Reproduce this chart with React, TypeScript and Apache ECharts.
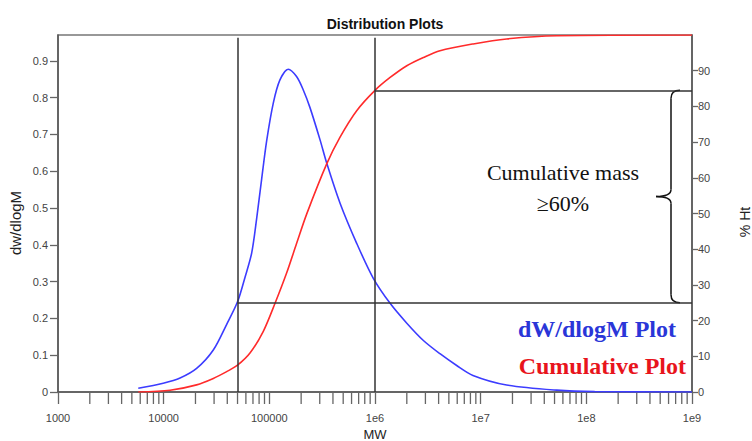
import React, { useEffect, useRef } from 'react';
import * as echarts from 'echarts';

// dW/dlogM distribution (left axis)
const blueMW = [5750, 9900, 14300, 20500, 29500, 39500, 50000, 58900, 68100, 75900, 84700, 94400, 109000, 126000, 151000, 181000, 210000, 243000, 302000, 349000, 467000, 671000, 964000, 1390000, 2000000, 2870000, 4120000, 5930000, 8450000, 17600000, 52400000, 120000000, 1000000000];
const dwdlogM = [0.010, 0.024, 0.038, 0.064, 0.114, 0.184, 0.245, 0.312, 0.378, 0.472, 0.580, 0.683, 0.785, 0.848, 0.877, 0.857, 0.820, 0.772, 0.685, 0.622, 0.513, 0.404, 0.309, 0.241, 0.187, 0.140, 0.104, 0.072, 0.045, 0.019, 0.005, 0.001, 0];

// Cumulative mass (right axis, %)
const cumMW = [5750, 11500, 20500, 29500, 39500, 50000, 65600, 87700, 113000, 146000, 181000, 226000, 349000, 467000, 671000, 1000000, 1390000, 2000000, 2870000, 4120000, 8500000, 17600000, 52400000, 1000000000];
const cumPercent = [0, 0.5, 2.0, 3.8, 5.7, 7.5, 10.9, 17.0, 24.8, 33.4, 41.6, 49.9, 63.9, 71.4, 78.8, 84.5, 88.1, 91.4, 93.7, 95.6, 97.5, 98.9, 99.8, 100];

// Reference markers
const markerMW = [50000, 1000000];
const markerPercent = [25, 84.5];

// Axis ticks
const leftTicks = [0, 0.1, 0.2, 0.3, 0.4, 0.5, 0.6, 0.7, 0.8, 0.9];
const rightTicks = [0, 10, 20, 30, 40, 50, 60, 70, 80, 90];
const minorDecades = [1e3, 1e4, 1e5, 1e6, 1e7, 1e8];
const minorSteps = [2, 3, 4, 5, 6, 7, 8, 9];

const AXIS_FONT = '"Liberation Sans", Arial, sans-serif';
const SERIF = '"Liberation Serif", "Times New Roman", serif';

export default function App() {
  const ref = useRef<HTMLDivElement>(null);

  useEffect(() => {
    const el = ref.current;
    if (!el) return;
    const chart = echarts.init(el, null, { renderer: 'svg' });

    const minorTicks: number[][] = [];
    minorDecades.forEach((d) => minorSteps.forEach((s) => minorTicks.push([d * s, 0])));

    const xFormatter = (v: number) => {
      const e = Math.round(Math.log10(v));
      return e >= 6 ? `1e${e}` : String(Math.pow(10, e));
    };

    chart.setOption({
      animation: false,
      backgroundColor: '#ffffff',
      title: {
        text: 'Distribution Plots',
        left: 380,
        top: 12,
        textAlign: 'center',
        textStyle: { fontFamily: AXIS_FONT, fontSize: 14, fontWeight: 'bold', color: '#111' },
      },
      grid: {
        left: 58,
        right: 60,
        top: 35,
        bottom: 49,
        containLabel: false,
        outerBoundsMode: 'none',
        show: true,
        borderColor: '#777',
        borderWidth: 1.5,
        backgroundColor: 'transparent',
      },
      xAxis: {
        type: 'log',
        logBase: 10,
        min: 1000,
        max: 1e9,
        name: 'MW',
        nameLocation: 'middle',
        nameGap: 36,
        nameTextStyle: { fontFamily: AXIS_FONT, fontSize: 13, color: '#222' },
        axisLine: { show: true, lineStyle: { color: '#555', width: 1.5 } },
        axisTick: { show: true, length: 12, lineStyle: { color: '#666', width: 1.3 } },
        axisLabel: { formatter: xFormatter, margin: 20, fontFamily: AXIS_FONT, fontSize: 11, color: '#444' },
        splitLine: { show: false },
        minorTick: { show: false },
      },
      yAxis: [
        {
          type: 'value',
          min: 0,
          max: 0.97,
          position: 'left',
          axisLine: { show: true, lineStyle: { color: '#555', width: 1.5 } },
          axisTick: { show: true, length: 8, customValues: leftTicks, lineStyle: { color: '#666', width: 1.3 } },
          axisLabel: {
            customValues: leftTicks,
            margin: 10,
            fontFamily: AXIS_FONT,
            fontSize: 11,
            color: '#444',
            formatter: (v: number) => (v === 0 ? '0' : v.toFixed(1)),
          },
          splitLine: { show: false },
        },
        {
          type: 'value',
          min: 0,
          max: 100,
          position: 'right',
          axisLine: { show: true, lineStyle: { color: '#555', width: 1.5 } },
          axisTick: { show: true, length: 6, customValues: rightTicks, lineStyle: { color: '#666', width: 1.3 } },
          axisLabel: {
            customValues: rightTicks,
            margin: 6,
            fontFamily: AXIS_FONT,
            fontSize: 11,
            color: '#444',
          },
          splitLine: { show: false },
        },
      ],
      series: [
        {
          name: 'dW/dlogM Plot',
          type: 'line',
          xAxisIndex: 0,
          yAxisIndex: 0,
          data: blueMW.map((m, i) => [m, dwdlogM[i]]),
          showSymbol: false,
          smooth: 0.3,
          lineStyle: { color: '#3c3cff', width: 1.6 },
          z: 3,
        },
        {
          name: 'Cumulative Plot',
          type: 'line',
          xAxisIndex: 0,
          yAxisIndex: 1,
          data: cumMW.map((m, i) => [m, cumPercent[i]]),
          showSymbol: false,
          smooth: 0.3,
          lineStyle: { color: '#ff2b2b', width: 1.6 },
          z: 3,
          markLine: {
            silent: true,
            symbol: 'none',
            label: { show: false },
            lineStyle: { color: '#333', width: 1.5, type: 'solid' },
            data: [
              [{ coord: [markerMW[0], 0] }, { coord: [markerMW[0], 99.2] }],
              [{ coord: [markerMW[1], 0] }, { coord: [markerMW[1], 99.2] }],
              [{ coord: [markerMW[0], markerPercent[0]] }, { coord: [1e9, markerPercent[0]] }],
              [{ coord: [markerMW[1], markerPercent[1]] }, { coord: [1e9, markerPercent[1]] }],
            ],
          },
        },
        {
          // minor ticks of the log axis (2..9 within each decade)
          type: 'custom',
          xAxisIndex: 0,
          yAxisIndex: 0,
          silent: true,
          data: minorTicks,
          renderItem: (_params: any, api: any) => {
            const p = api.coord([api.value(0), 0]);
            return {
              type: 'line',
              shape: { x1: p[0], y1: p[1], x2: p[0], y2: p[1] + 12 },
              style: { stroke: '#666', lineWidth: 1.3 },
            };
          },
        },
      ],
    });

    const xRight = chart.convertToPixel({ xAxisIndex: 0 }, 1e9) as number;
    const yTop = chart.convertToPixel({ yAxisIndex: 1 }, markerPercent[1]) as number;
    const yBot = chart.convertToPixel({ yAxisIndex: 1 }, markerPercent[0]) as number;
    const bx = xRight - 21;
    const yMid = (yTop + yBot) / 2;
    const braceStyle = { stroke: '#111', lineWidth: 1.5, fill: 'none' };

    chart.setOption({
      graphic: [
        {
          type: 'text',
          x: 15,
          y: 223,
          rotation: Math.PI / 2,
          style: { text: 'dw/dlogM', fontFamily: AXIS_FONT, fontSize: 15, fill: '#222', align: 'center', verticalAlign: 'middle' },
        },
        {
          type: 'text',
          x: 745,
          y: 222,
          rotation: Math.PI / 2,
          style: { text: '% Ht', fontFamily: AXIS_FONT, fontSize: 14, fill: '#222', align: 'center', verticalAlign: 'middle' },
        },
        {
          type: 'group',
          children: [
            { type: 'bezierCurve', shape: { x1: bx + 9, y1: yTop, cpx1: bx, cpy1: yTop, x2: bx, y2: yTop + 8 }, style: braceStyle },
            { type: 'line', shape: { x1: bx, y1: yTop + 8, x2: bx, y2: yMid - 7 }, style: braceStyle },
            { type: 'bezierCurve', shape: { x1: bx, y1: yMid - 7, cpx1: bx, cpy1: yMid, x2: bx - 15, y2: yMid }, style: braceStyle },
            { type: 'bezierCurve', shape: { x1: bx - 15, y1: yMid, cpx1: bx, cpy1: yMid, x2: bx, y2: yMid + 7 }, style: braceStyle },
            { type: 'line', shape: { x1: bx, y1: yMid + 7, x2: bx, y2: yBot - 8 }, style: braceStyle },
            { type: 'bezierCurve', shape: { x1: bx, y1: yBot - 8, cpx1: bx, cpy1: yBot, x2: bx + 9, y2: yBot }, style: braceStyle },
          ],
        },
        {
          type: 'text',
          x: 563,
          y: 172,
          style: { text: 'Cumulative mass', fontFamily: SERIF, fontSize: 22, fill: '#111', align: 'center', verticalAlign: 'middle' },
        },
        {
          type: 'text',
          x: 563,
          y: 203,
          style: { text: '≥60%', fontFamily: SERIF, fontSize: 22, fill: '#111', align: 'center', verticalAlign: 'middle' },
        },
        {
          type: 'text',
          x: 676,
          y: 329,
          style: { text: 'dW/dlogM Plot', fontFamily: SERIF, fontSize: 24, fontWeight: 'bold', fill: '#2a36d8', align: 'right', verticalAlign: 'middle' },
        },
        {
          type: 'text',
          x: 686,
          y: 366,
          style: { text: 'Cumulative Plot', fontFamily: SERIF, fontSize: 24, fontWeight: 'bold', fill: '#e8141c', align: 'right', verticalAlign: 'middle' },
        },
      ],
    });

    return () => chart.dispose();
  }, []);

  return (
    <div
      ref={ref}
      style={{ position: 'fixed', left: 0, top: 0, width: 752, height: 441, background: '#fff' }}
    />
  );
}
